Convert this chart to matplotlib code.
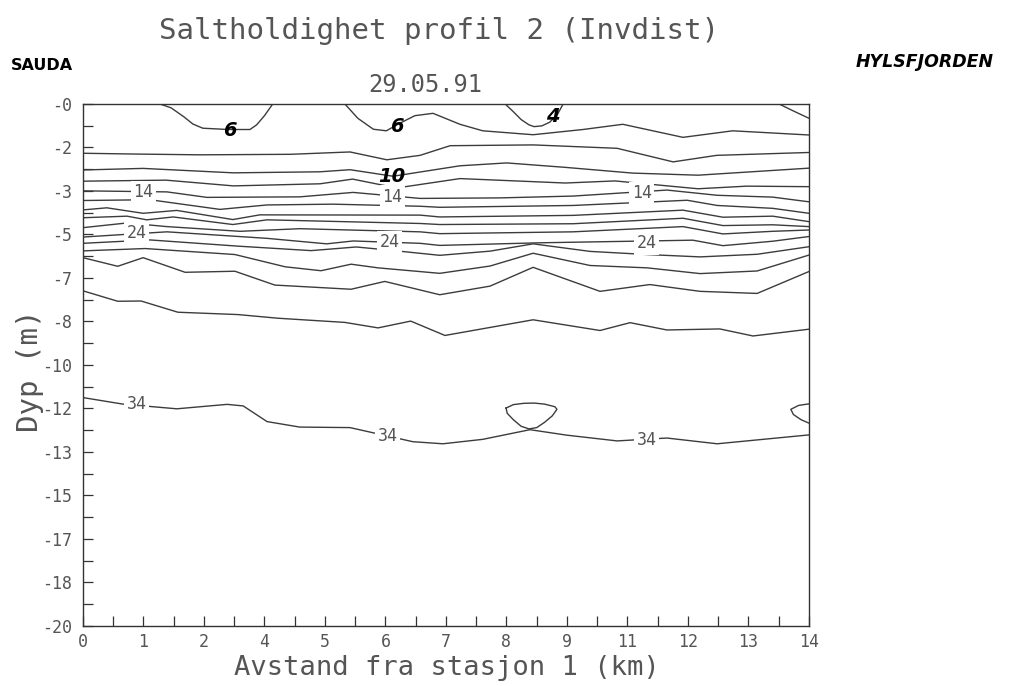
import numpy as np
import matplotlib.pyplot as plt

plt.rcParams['font.family'] = ['DejaVu Sans Mono', 'DejaVu Sans']

# axis ticks (plotter rounded labels)
xticks = np.linspace(0, 14, 13)
xticklabels = ['0', '1', '2', '4', '5', '6', '7', '8', '9', '11', '12', '13', '14']
yticks = np.linspace(0, -20, 13)
yticklabels = ['-0', '-2', '-3', '-5', '-7', '-8', '-10', '-12', '-13', '-15', '-17', '-18', '-20']

# isohalines: distance (km) and depth (m)
s4a_x = [8.14, 8.3, 8.45, 8.6, 8.7, 8.85, 9.0, 9.15, 9.26]
s4a_d = [0, -0.3, -0.6, -0.8, -0.87, -0.84, -0.7, -0.4, 0]
s4b_x = [13.42, 13.7, 14.0]
s4b_d = [0, -0.27, -0.55]

s6a_x = [1.48, 1.7, 1.95, 2.12, 2.31, 2.8, 3.22, 3.35, 3.5, 3.66]
s6a_d = [0, -0.15, -0.5, -0.77, -0.93, -0.98, -0.98, -0.8, -0.45, 0]
s6b_x = [5.05, 5.3, 5.6, 5.85, 6.11, 6.4, 6.75, 7.27, 7.71, 8.68, 9.64, 10.41, 11.57, 12.53, 14.0]
s6b_d = [0, -0.55, -0.97, -1.03, -0.74, -0.45, -0.36, -0.78, -1.03, -1.18, -0.98, -0.78, -1.28, -1.03, -1.19]

s8_x = [0, 1.0, 2.26, 4.0, 5.15, 5.86, 6.5, 7.08, 8.68, 10.3, 11.38, 12.22, 14.0]
s8_d = [-1.89, -1.92, -1.95, -1.93, -1.84, -2.14, -1.97, -1.6, -1.57, -1.7, -2.22, -1.97, -1.86]
s10_x = [0, 1.16, 2.9, 4.57, 5.15, 5.98, 7.27, 8.17, 9.3, 10.6, 11.86, 14.0]
s10_d = [-2.53, -2.47, -2.64, -2.6, -2.52, -2.77, -2.37, -2.26, -2.43, -2.65, -2.73, -2.46]
s12_x = [0, 1.6, 2.9, 4.57, 5.2, 6.05, 7.27, 9.3, 10.26, 11.86, 12.8, 14.0]
s12_d = [-2.96, -2.92, -3.14, -3.06, -2.88, -3.22, -2.86, -3.03, -2.95, -3.25, -3.15, -3.17]
s14_x = [0, 1.62, 2.39, 4.18, 5.21, 6.5, 8.04, 9.45, 11.26, 12.23, 13.3, 14.0]
s14_d = [-3.33, -3.37, -3.58, -3.56, -3.39, -3.62, -3.6, -3.53, -3.3, -3.5, -3.57, -3.75]
s16_x = [0, 1.29, 2.64, 3.55, 4.82, 6.5, 6.88, 9.45, 11.65, 12.23, 13.3, 14.0]
s16_d = [-3.7, -3.67, -4.04, -3.87, -3.84, -3.92, -3.96, -3.89, -3.69, -3.89, -4.0, -4.19]
s18_x = [0, 0.46, 1.16, 1.81, 2.89, 3.41, 6.5, 6.88, 9.45, 11.57, 12.34, 13.3, 14.0]
s18_d = [-4.06, -3.98, -4.19, -4.08, -4.43, -4.25, -4.26, -4.33, -4.27, -4.07, -4.34, -4.3, -4.51]
s20_x = [0, 0.85, 1.23, 1.74, 2.89, 3.55, 6.5, 6.88, 9.45, 11.57, 12.34, 13.3, 14.0]
s20_d = [-4.36, -4.3, -4.44, -4.33, -4.62, -4.44, -4.58, -4.62, -4.59, -4.38, -4.66, -4.63, -4.7]
s22_x = [0, 0.85, 1.62, 3.03, 4.18, 6.5, 6.88, 9.45, 11.57, 12.34, 13.3, 14.0]
s22_d = [-4.74, -4.56, -4.7, -4.88, -4.78, -4.9, -4.97, -4.9, -4.7, -4.98, -4.88, -4.83]
s24_x = [0, 0.8, 1.62, 3.55, 4.7, 5.21, 6.5, 6.88, 8.81, 11.76, 12.34, 13.3, 14.0]
s24_d = [-5.1, -5.0, -4.9, -5.15, -5.36, -5.25, -5.34, -5.42, -5.32, -5.22, -5.43, -5.26, -5.08]
s26_x = [0, 1.29, 3.0, 4.4, 5.27, 6.0, 6.88, 7.85, 8.68, 9.78, 10.88, 11.9, 13.0, 14.0]
s26_d = [-5.34, -5.21, -5.45, -5.62, -5.48, -5.62, -5.8, -5.64, -5.36, -5.65, -5.77, -5.86, -5.76, -5.47]
s28_x = [0, 1.2, 2.93, 3.9, 4.59, 5.17, 5.69, 6.88, 7.85, 8.68, 9.78, 10.88, 11.9, 13.0, 14.0]
s28_d = [-5.63, -5.54, -5.77, -6.24, -6.39, -6.14, -6.28, -6.49, -6.21, -5.72, -6.19, -6.28, -6.5, -6.4, -5.79]
s30_x = [0, 0.67, 1.16, 1.97, 2.93, 3.7, 5.17, 5.82, 6.88, 7.85, 8.68, 9.97, 10.93, 11.9, 13.0, 14.0]
s30_d = [-5.89, -6.22, -5.89, -6.45, -6.41, -6.94, -7.1, -6.8, -7.31, -6.98, -6.26, -7.18, -6.92, -7.18, -7.26, -6.42]
s32_x = [0, 0.67, 1.12, 1.83, 2.99, 3.76, 5.05, 5.69, 6.32, 6.98, 8.68, 9.97, 10.55, 11.26, 12.28, 12.92, 14.0]
s32_d = [-7.16, -7.56, -7.55, -7.98, -8.07, -8.21, -8.37, -8.58, -8.32, -8.87, -8.27, -8.68, -8.38, -8.66, -8.62, -8.89, -8.63]
s34_x = [0, 0.77, 1.81, 2.78, 3.09, 3.55, 4.18, 5.15, 6.36, 6.94, 7.71, 8.62, 9.33, 10.3, 11.26, 12.23, 14.0]
s34_d = [-11.25, -11.5, -11.68, -11.51, -11.57, -12.17, -12.38, -12.4, -12.94, -13.02, -12.85, -12.48, -12.69, -12.91, -12.8, -13.02, -12.68]
lens_x = [8.16, 8.3, 8.5, 8.7, 8.9, 9.1, 9.14, 9.05, 8.9, 8.75, 8.6, 8.45, 8.3, 8.18, 8.16]
lens_d = [-11.65, -11.52, -11.47, -11.46, -11.5, -11.6, -11.7, -11.95, -12.2, -12.4, -12.45, -12.35, -12.1, -11.85, -11.65]
edge_x = [14.0, 13.8, 13.65, 13.7, 13.85, 14.0]
edge_d = [-11.49, -11.55, -11.7, -11.9, -12.1, -12.23]

# printed contour labels
lab_txt = ['14', '14', '14', '24', '24', '24', '34', '34', '34']
lab_x = [1.16, 5.96, 10.78, 1.04, 5.92, 10.87, 1.04, 5.88, 10.87]
lab_d = [-3.38, -3.55, -3.42, -4.93, -5.3, -5.33, -11.5, -12.72, -12.88]
# hand written labels
hand_txt = ['6', '6', '4', '10']
hand_x = [2.83, 6.05, 9.06, 5.96]
hand_d = [-1.03, -0.87, -0.49, -2.78]

lines = [(s4a_x, s4a_d), (s4b_x, s4b_d), (s6a_x, s6a_d), (s6b_x, s6b_d),
         (s8_x, s8_d), (s10_x, s10_d), (s12_x, s12_d), (s14_x, s14_d),
         (s16_x, s16_d), (s18_x, s18_d), (s20_x, s20_d), (s22_x, s22_d),
         (s24_x, s24_d), (s26_x, s26_d), (s28_x, s28_d), (s30_x, s30_d),
         (s32_x, s32_d), (s34_x, s34_d), (lens_x, lens_d), (edge_x, edge_d)]

fig = plt.figure(figsize=(10.13, 6.86), dpi=100)
ax = fig.add_axes([0.0819, 0.0875, 0.7167, 0.761])

lc = '#3c3c3c'
for xs, ds in lines:
    ax.plot(xs, ds, color=lc, lw=1.0, solid_joinstyle='round')

for t, x, d in zip(lab_txt, lab_x, lab_d):
    ax.text(x, d, t, ha='center', va='center', fontsize=12, color='#555555', zorder=5,
            bbox=dict(boxstyle='square,pad=0.15', fc='white', ec='none'))
for t, x, d in zip(hand_txt, hand_x, hand_d):
    ax.text(x, d, t, ha='center', va='center', fontsize=14, color='black', zorder=6,
            family='DejaVu Sans', fontweight='bold', fontstyle='italic')

ax.set_xlim(0, 14)
ax.set_ylim(-20, 0)
ax.set_xticks(xticks)
ax.set_xticklabels(xticklabels)
ax.set_xticks((xticks[:-1] + xticks[1:]) / 2, minor=True)
ax.set_yticks(yticks)
ax.set_yticklabels(yticklabels)
ax.set_yticks((yticks[:-1] + yticks[1:]) / 2, minor=True)
ax.tick_params(which='both', direction='in', length=7, width=0.9, color='#333333',
               top=False, right=False)
ax.tick_params(axis='y', which='major', pad=8, labelsize=12, labelcolor='#555555')
ax.tick_params(axis='x', which='major', pad=5, labelsize=12, labelcolor='#555555')
for sp in ax.spines.values():
    sp.set_color('#333333')
    sp.set_linewidth(1.0)

fig.text(0.433, 0.955, 'Saltholdighet profil 2 (Invdist)', ha='center', va='center',
         fontsize=21, color='#555555')
fig.text(0.42, 0.876, '29.05.91', ha='center', va='center', fontsize=17, color='#555555')
fig.text(0.441, 0.026, 'Avstand fra stasjon 1 (km)', ha='center', va='center',
         fontsize=19.5, color='#555555')
fig.text(0.03, 0.46, 'Dyp (m)', ha='center', va='center', rotation=90,
         fontsize=21, color='#555555')
fig.text(0.041, 0.905, 'SAUDA', ha='center', va='center', fontsize=11.5,
         family='DejaVu Sans', fontweight='bold', color='black')
fig.text(0.913, 0.91, 'HYLSFJORDEN', ha='center', va='center', fontsize=12.5,
         family='DejaVu Sans', fontweight='bold', fontstyle='italic', color='black')

fig.savefig('out.png', dpi=100)
